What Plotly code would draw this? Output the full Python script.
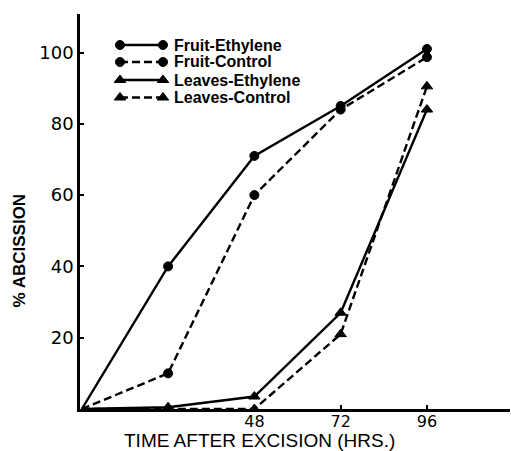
import plotly.graph_objects as go

hours = [0, 24, 48, 72, 96]
fruit_ethylene = [0, 40, 71, 85, 101]
fruit_control = [0, 10, 60, 84, 98.7]
leaves_ethylene = [0, 0.5, 3.5, 27, 84]
leaves_control = [0, 0, 0, 21, 90.5]

series_names = ["Fruit-Ethylene", "Fruit-Control", "Leaves-Ethylene", "Leaves-Control"]
x_ticks = [48, 72, 96]
y_ticks = [20, 40, 60, 80, 100]

x_title = "TIME AFTER EXCISION (HRS.)"
y_title = "% ABCISSION"

series_values = [fruit_ethylene, fruit_control, leaves_ethylene, leaves_control]
symbols = ["circle", "circle", "triangle-up", "triangle-up"]
dashes = ["solid", "8px,4px", "solid", "8px,4px"]
msizes = [9, 9, 10, 10]

# legend layout (paper fractions of the plot area)
leg_rows = [0.9215, 0.8785, 0.8329, 0.7886]
leg_x0, leg_x1, leg_tx = 0.093, 0.193, 0.214

fig = go.Figure()
for name, vals, sym, dash, ms in zip(series_names, series_values, symbols, dashes, msizes):
    fig.add_trace(go.Scatter(
        x=hours, y=vals, name=name, mode="lines+markers", showlegend=False,
        opacity=1,
        line=dict(color="black", width=2.4, dash=dash),
        marker=dict(symbol=sym, color="black", opacity=1,
                    size=[0] + [ms] * (len(vals) - 1),
                    line=dict(color="black", width=1)),
        cliponaxis=False,
    ))

# manual legend samples on an overlay unit axis
for name, sym, dash, ms, ry in zip(series_names, symbols, dashes, msizes, leg_rows):
    fig.add_trace(go.Scatter(
        x=[leg_x0, leg_x1], y=[ry, ry], xaxis="x2", yaxis="y2",
        mode="lines+markers", showlegend=False, hoverinfo="skip",
        line=dict(color="black", width=2.4, dash=dash),
        marker=dict(symbol=sym, color="black", opacity=1, size=ms,
                    line=dict(color="black", width=1)),
        cliponaxis=False,
    ))
    fig.add_annotation(
        x=leg_tx, y=ry, xref="paper", yref="paper", text=name, showarrow=False,
        xanchor="left", yanchor="middle",
        font=dict(family="Liberation Sans, Arial, sans-serif", size=16, color="black",
                  weight="bold"),
    )

fig.add_annotation(
    x=0.4186, y=-0.0797, xref="paper", yref="paper", text=x_title, showarrow=False,
    xanchor="center", yanchor="middle", borderpad=0,
    font=dict(family="Liberation Sans, Arial, sans-serif", size=19, color="black"),
)
fig.add_annotation(
    x=-0.1407, y=0.4025, xref="paper", yref="paper", text=y_title, showarrow=False,
    xanchor="center", yanchor="middle", textangle=-90,
    font=dict(family="Liberation Sans, Arial, sans-serif", size=17, color="black",
              weight="bold"),
)

fig.update_layout(
    width=511, height=451,
    margin=dict(l=80, r=1, t=14, b=42),
    paper_bgcolor="white", plot_bgcolor="white",
    showlegend=False,
    xaxis=dict(
        range=[-0.5, 119.1], tickvals=x_ticks, ticktext=[str(v) for v in x_ticks],
        showline=True, linecolor="black", linewidth=2.5, showgrid=False, zeroline=False,
        ticks="inside", ticklen=4, tickcolor="black", tickwidth=1.5,
        tickfont=dict(family="DejaVu Sans, sans-serif", size=16, color="black"),
        automargin=False, ticklabelstandoff=-4,
    ),
    yaxis=dict(
        range=[0, 110.8], tickvals=y_ticks, ticktext=[str(v) for v in y_ticks],
        showline=True, linecolor="black", linewidth=2.5, showgrid=False, zeroline=False,
        ticks="inside", ticklen=4, tickcolor="black", tickwidth=1.5,
        tickfont=dict(family="DejaVu Sans, sans-serif", size=18, color="black"),
        automargin=False,
    ),
    xaxis2=dict(range=[0, 1], overlaying="x", visible=False, fixedrange=True),
    yaxis2=dict(range=[0, 1], overlaying="y", visible=False, fixedrange=True),
)

fig.write_html(
    "out.html",
    config={"displayModeBar": False},
    post_script="document.body.style.margin='0';document.body.style.overflow='hidden';",
)
